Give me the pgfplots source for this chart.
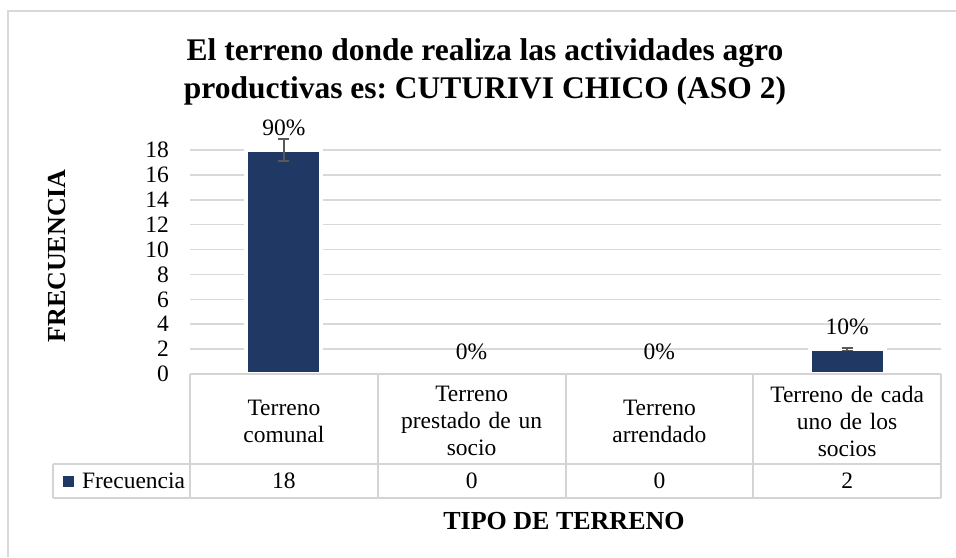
\documentclass[border=0pt]{standalone}
\usepackage{fontspec}
\setmainfont{Liberation Serif}
\usepackage{pgfplots}
\pgfplotsset{compat=1.18}
\usepackage{pgfplotstable}
\definecolor{barblue}{HTML}{203864}
\definecolor{gridgray}{HTML}{D9D9D9}
\definecolor{tablegray}{HTML}{D4D4D4}
\definecolor{errgray}{HTML}{595959}
\frenchspacing

\pgfplotstableread{
x y err pct
0 18 0.9 90
1 0 0 0
2 0 0 0
3 2 0.1 10
}\datatable

\newcommand{\bodyfont}{\fontsize{23.5}{27}\selectfont}

\begin{document}
\begin{tikzpicture}[x=1pt,y=1pt]
\useasboundingbox (0,0) rectangle (956,-557);
\fill[white] (0,0) rectangle (956,-557);
\draw[gridgray, line width=1.5pt] (8,-557) -- (8,-11) -- (956,-11);

\node[anchor=base, font=\bfseries\fontsize{31.5}{36}\selectfont] at (485,-60) {El terreno donde realiza las actividades agro};
\node[anchor=base, font=\bfseries\fontsize{31.5}{36}\selectfont] at (485,-98) {productivas es: CUTURIVI CHICO (ASO 2)};

\begin{axis}[
  at={(190pt,-374pt)}, anchor=south west,
  scale only axis, width=751pt, height=224pt,
  xmin=-0.5, xmax=3.5, ymin=0, ymax=18,
  ytick={0,2,...,18},
  xtick={0,1,2,3},
  xticklabels={{Terreno\\comunal},{Terreno\\prestado de un\\socio},{Terreno\\arrendado},{Terreno de cada\\uno de los\\socios}},
  axis line style={draw=none},
  major tick length=0pt,
  tick style={draw=none},
  ymajorgrids,
  grid style={gridgray, line width=1.5pt},
  clip=false,
  /pgf/number format/assume math mode=true,
  yticklabel style={font=\bodyfont, inner sep=0pt, xshift=-21pt},
  xticklabel style={font=\bodyfont, text width=180pt, align=center, anchor=center, yshift=-47pt, inner sep=0pt},
  ylabel={FRECUENCIA},
  ylabel style={at={(axis description cs:-0.1771,0.527)}, anchor=center, font=\bfseries\fontsize{26}{30}\selectfont},
  xlabel={TIPO DE TERRENO},
  xlabel style={at={(axis description cs:0.498,-0.692)}, anchor=base, font=\bfseries\fontsize{26}{30}\selectfont},
  legend style={at={(axis description cs:-0.1691,-0.4777)}, anchor=west, draw=none, fill=none, inner sep=0pt, outer sep=0pt, font=\bodyfont, nodes={inner sep=0pt}, column sep=8pt},
]
\addplot[ybar, bar width=75pt, fill=barblue, draw=white, line width=4pt,
  legend image code/.code={\fill[barblue] (0pt,-3.5pt) rectangle (7pt,3.5pt);},
  point meta=explicit,
  nodes near coords={\pgfmathprintnumber{\pgfplotspointmeta}\%},
  every node near coord/.append style={anchor=base, yshift=14.5pt, font=\bodyfont, text=black},
  error bars/.cd, y dir=both, y explicit,
  error bar style={color=errgray, line width=1.5pt},
  error mark options={rotate=90, mark size=5.5pt, line width=1.5pt, color=errgray}
] table[x=x, y=y, y error=err, meta=pct]{\datatable};
\addlegendentry{Frecuencia}
\addplot[draw=none, mark=none, point meta=explicit,
  nodes near coords,
  every node near coord/.append style={anchor=center, font=\bodyfont, text=black}
] table[x=x, y expr=-8.6, meta=y]{\datatable};
\end{axis}

\draw[tablegray, line width=1.5pt] (190,-374) -- (941,-374);
\draw[tablegray, line width=1.5pt] (53,-464) -- (941,-464);
\draw[tablegray, line width=1.5pt] (53,-498) -- (941,-498);
\draw[tablegray, line width=1.5pt] (53,-464) -- (53,-498);
\foreach \xx in {190,378,566,753,941} {
  \draw[tablegray, line width=1.5pt] (\xx,-374) -- (\xx,-498);
}
\end{tikzpicture}
\end{document}
